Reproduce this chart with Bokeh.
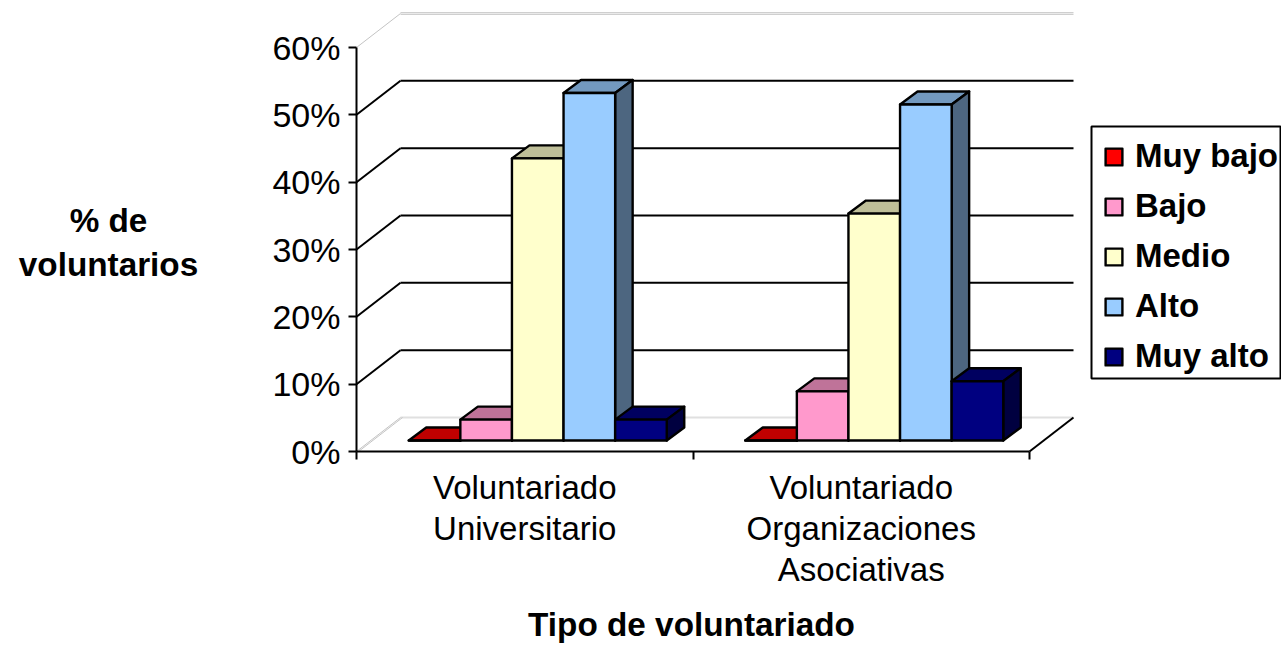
from bokeh.plotting import figure
from bokeh.models import (Range1d, LinearAxis, FixedTicker, Legend, LegendItem,
                          Label, BoxAnnotation, PrintfTickFormatter)
from bokeh.embed import file_html
from bokeh.resources import INLINE

# ---- data ----
categories = ["Voluntariado\nUniversitario", "Voluntariado\nOrganizaciones\nAsociativas"]
series_names = ["Muy bajo", "Bajo", "Medio", "Alto", "Muy alto"]
muy_bajo = [0.0, 0.0]
bajo = [3.1, 7.3]
medio = [41.9, 33.7]
alto = [51.6, 49.9]
muy_alto = [3.1, 8.8]
series_values = [muy_bajo, bajo, medio, alto, muy_alto]
front_colors = ["#FF0000", "#FF99CC", "#FFFFCC", "#99CCFF", "#000080"]
top_colors = ["#C00000", "#BF7399", "#BFBF99", "#7399BF", "#000060"]
side_colors = ["#800000", "#804D66", "#808066", "#4D6680", "#000040"]
y_ticks = [0, 10, 20, 30, 40, 50, 60]

# ---- layout (pixels) ----
W, H = 1281, 645
AX_L, AX_B, AX_T = 356, 451, 47      # front axis corner and 60% tick
CAT_PX = 336.5                       # one category, px
PCT_PX = (AX_B - AX_T) / 60.0        # one percent, px
def X(px): return (px - AX_L) / CAT_PX
def Y(py): return (AX_B - py) / PCT_PX
WALL_DX, WALL_DY = 44 / CAT_PX, 34 / PCT_PX     # depth of the box
BASE_DX, BASE_DY = 13 / CAT_PX, 11 / PCT_PX     # bars stand this deep
BAR_DX, BAR_DY = 17.5 / CAT_PX, 13 / PCT_PX     # depth of a bar
BAR_W = 51.6 / CAT_PX
GAP = (1 - 5 * BAR_W) / 2

p = figure(width=W, height=H, output_backend="svg", toolbar_location=None,
           x_range=Range1d(X(0), X(W)), y_range=Range1d(Y(H), Y(0)),
           x_axis_type=None, y_axis_type=None,
           min_border_left=0, min_border_right=0, min_border_top=0, min_border_bottom=0,
           outline_line_color=None, background_fill_color="white")

# ---- axes ----
yax = LinearAxis(ticker=FixedTicker(ticks=y_ticks), bounds=(0, 60), fixed_location=0,
                 formatter=PrintfTickFormatter(format="%d%%"))
yax.major_label_text_font = "Liberation Sans"
yax.major_label_text_font_size = "34px"
yax.major_label_text_color = "black"
yax.major_label_standoff = 8
yax.major_tick_out = 8
yax.major_tick_in = 0
yax.minor_tick_out = 0
yax.minor_tick_in = 0
yax.major_tick_line_width = 2
yax.axis_line_width = 2
yax.major_tick_line_color = "black"
yax.axis_line_color = "black"
p.add_layout(yax, "left")

xax = LinearAxis(ticker=FixedTicker(ticks=[0.5, 1.5], minor_ticks=[0, 1, 2]), bounds=(0, 2),
                 fixed_location=0,
                 major_label_overrides={0.5: categories[0], 1.5: categories[1]})
xax.major_tick_out = 0
xax.major_tick_in = 0
xax.minor_tick_out = 8
xax.minor_tick_in = 0
xax.minor_tick_line_width = 2
xax.minor_tick_line_color = "black"
xax.axis_line_width = 2
xax.axis_line_color = "black"
xax.major_label_standoff = 9
xax.major_label_text_font = "Liberation Sans"
xax.major_label_text_font_size = "33px"
xax.major_label_text_color = "black"
xax.major_label_text_line_height = 1.12
p.add_layout(xax, "below")

# ---- walls ----
top = 60 + WALL_DY
grey = "#C4C4C4"
p.segment([WALL_DX, WALL_DX], [top + 0.12, top - 0.12], [2 + WALL_DX] * 2, [top + 0.12, top - 0.12],
          line_color=grey, line_width=1)
p.segment([0], [60], [WALL_DX], [top], line_color=grey, line_width=1)
p.segment([WALL_DX], [WALL_DY], [2 + WALL_DX], [WALL_DY], line_color="#E0E0E0", line_width=2)
p.segment([0, 0.006], [0, 0], [WALL_DX, WALL_DX + 0.006], [WALL_DY, WALL_DY], line_color=grey, line_width=1)
p.segment([2], [0], [2 + WALL_DX], [WALL_DY], line_color="black", line_width=2)
grid = [t for t in y_ticks if 0 < t < 60]
p.segment([0] * len(grid), grid, [WALL_DX] * len(grid), [g + WALL_DY for g in grid],
          line_color="black", line_width=2)
p.segment([WALL_DX] * len(grid), [g + WALL_DY for g in grid], [2 + WALL_DX] * len(grid),
          [g + WALL_DY for g in grid], line_color="black", line_width=2)

# ---- bars, left to right ----
legend_items = []
for i, name in enumerate(series_names):
    vals = series_values[i]
    lefts = [c + GAP + i * BAR_W + BASE_DX for c in range(len(vals))]
    rights = [l + BAR_W for l in lefts]
    tops = [v + BASE_DY for v in vals]
    style = dict(line_color="black", line_width=2.4, line_join="round")
    p.patches([[l, r, r + BAR_DX, l + BAR_DX] for l, r in zip(lefts, rights)],
              [[t, t, t + BAR_DY, t + BAR_DY] for t in tops],
              fill_color=top_colors[i], **style)
    p.patches([[r, r + BAR_DX, r + BAR_DX, r] for r in rights],
              [[BASE_DY, BASE_DY + BAR_DY, t + BAR_DY, t] for t in tops],
              fill_color=side_colors[i], **style)
    r = p.quad(left=lefts, right=rights, bottom=[BASE_DY] * len(vals), top=tops,
               fill_color=front_colors[i], **style)
    legend_items.append(LegendItem(label=name, renderers=[r]))

# ---- legend ----
legend = Legend(items=legend_items, location=(1103, H - 375),
                orientation="vertical", padding=0, margin=0, spacing=12,
                glyph_width=21, glyph_height=21, label_height=38, label_width=142,
                label_standoff=11, border_line_color=None, background_fill_alpha=0,
                label_text_font="Liberation Sans", label_text_font_style="bold",
                label_text_font_size="33px", label_text_color="black")
p.add_layout(legend)
p.add_layout(BoxAnnotation(left=X(1091), right=X(1280), top=Y(126), bottom=Y(378),
                           fill_alpha=0, line_color="black", line_alpha=1, line_width=2))

# ---- axis titles ----
title_style = dict(text_align="center", text_baseline="middle",
                   text_font="Liberation Sans", text_font_style="bold",
                   text_font_size="33.3px", text_color="black")
p.add_layout(Label(x=X(691), y=Y(624), text="Tipo de voluntariado", **title_style))
p.add_layout(Label(x=X(108), y=Y(242), text="% de\nvoluntarios", **title_style))

open("out.html", "w").write(file_html(p, INLINE))
